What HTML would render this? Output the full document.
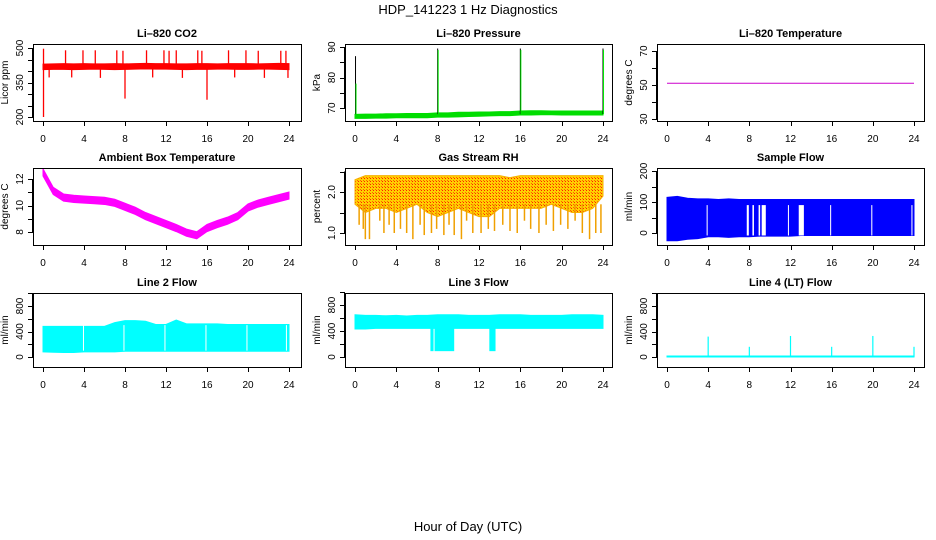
<!DOCTYPE html>
<html><head><meta charset="utf-8"><style>
body{margin:0;background:#fff}
svg{display:block;font-family:"Liberation Sans",sans-serif}
</style></head><body>
<svg id="c" width="936" height="540" viewBox="0 0 936 540">
<text x="468" y="14" text-anchor="middle" font-size="13">HDP_141223  1 Hz Diagnostics</text>
<text x="468" y="531" text-anchor="middle" font-size="13">Hour of Day (UTC)</text>
</svg>
<script>
// ---- data ----
const hours = [0,1,2,3,4,5,6,7,8,9,10,11,12,13,14,15,16,17,18,19,20,21,22,23,24];
const xTicks = [0,4,8,12,16,20,24];
// CO2
const co2Low  = [406,407,407,406,407,408,407,406,407,408,409,408,408,407,406,407,407,408,408,407,407,408,408,407,406];
const co2High = [430,431,432,431,432,431,431,432,431,432,433,432,432,431,431,432,432,431,432,432,432,431,432,433,432];
const co2SpikeHours = [0.05,0.05,2.2,3.9,5.1,7.2,7.8,8.0,10.1,11.8,12.3,13.0,15.1,15.5,16.0,18.1,19.8,21.0,23.2,23.7,0.6,2.8,5.6,10.7,13.6,18.7,21.6,23.9];
const co2SpikeVals  = [200,497,490,490,490,490,488,280,490,490,488,490,490,488,275,490,490,488,488,488,372,372,370,372,370,372,370,370];
// Pressure
const presLow  = [66.6,66.6,66.7,66.7,66.8,66.8,66.8,66.8,67.0,67.0,67.1,67.2,67.3,67.4,67.5,67.5,67.7,67.7,67.8,67.8,67.7,67.7,67.7,67.7,67.7];
const presHigh = [67.9,68.0,68.0,68.1,68.1,68.2,68.2,68.2,68.4,68.4,68.6,68.6,68.7,68.7,68.8,68.8,69.0,69.1,69.1,69.0,69.0,69.0,69.0,69.0,69.0];
const presSpikeHours = [0.05,8.0,16.0,24.0];
const presSpikeVals  = [87,89.5,89.5,89.5];
// Li-820 temperature
const licorTemp = [51,51,51,51,51,51,51,51,51,51,51,51,51,51,51,51,51,51,51,51,51,51,51,51,51];
// Ambient box temperature (centre line)
const ambTemp = [12.5,11.1,10.6,10.5,10.45,10.4,10.35,10.2,9.9,9.6,9.2,8.9,8.6,8.3,7.95,7.75,8.3,8.6,8.85,9.2,9.85,10.15,10.35,10.55,10.75];
// Gas stream RH
const rhHigh = [2.3,2.4,2.4,2.4,2.4,2.4,2.4,2.4,2.4,2.4,2.4,2.4,2.4,2.4,2.4,2.35,2.4,2.4,2.4,2.4,2.4,2.4,2.4,2.4,2.4];
const rhLow  = [1.7,1.5,1.6,1.6,1.5,1.6,1.7,1.5,1.4,1.5,1.6,1.5,1.4,1.4,1.6,1.6,1.6,1.6,1.6,1.7,1.6,1.5,1.5,1.6,1.9];
const rhDipHours = [0.4,0.8,1.0,1.4,2.4,2.8,3.3,3.8,4.4,5.0,5.6,6.3,6.7,7.4,7.9,8.6,9.1,9.6,10.3,10.8,11.4,12.2,12.9,13.5,14.3,15.0,15.7,16.4,17.0,17.8,18.5,19.2,19.9,20.6,21.3,22.0,22.7,23.3,23.8];
const rhDipVals  = [1.2,1.1,0.85,0.85,1.3,1.0,1.2,1.0,1.1,1.0,0.85,1.2,0.95,1.0,1.1,0.95,1.2,0.95,0.85,1.3,1.0,1.0,1.1,1.05,1.2,1.05,1.0,1.3,1.1,1.0,1.2,1.05,1.2,1.1,1.3,1.0,0.85,1.0,1.0];
// Sample flow
const sfLow  = [-25,-25,-20,-18,-12,-12,-14,-12,-12,-10,-10,-10,-10,-8,-8,-8,-8,-8,-8,-8,-8,-8,-8,-8,-8];
const sfHigh = [115,118,112,110,110,108,110,108,108,108,108,108,108,108,108,108,108,108,108,108,108,108,108,108,108];
const sfGapStart = [3.85,7.75,8.3,8.9,9.2,11.75,12.8,15.85,19.85,23.75];
const sfGapEnd   = [3.95,7.95,8.45,9.05,9.6,11.85,13.3,15.95,19.95,23.85];
// Line 2 flow
const l2Low  = [80,75,70,70,80,80,80,80,90,90,90,90,90,90,90,90,90,90,90,90,90,90,90,90,90];
const l2High = [480,480,480,480,480,480,480,540,570,570,560,510,510,580,520,520,520,520,510,510,510,510,510,510,510];
const l2GapHours = [3.9,7.85,11.85,15.85,19.85,23.7];
// Line 3 flow
const l3Low  = [430,430,440,440,440,440,440,440,440,440,440,440,440,440,440,440,440,440,440,440,440,440,440,440,440];
const l3High = [650,640,640,635,640,630,640,640,650,650,650,640,640,640,650,650,650,640,640,640,640,650,650,650,640];
const l3DipStart = [7.3,7.7,13.0];
const l3DipEnd   = [7.6,9.6,13.6];
const l3DipVals  = [90,90,90];
// Line 4 flow
const l4Base = [15,15,15,15,15,15,15,15,15,15,15,15,15,15,15,15,15,15,15,15,15,15,15,15,15];
const l4SpikeHours = [4,8,12,16,20,24];
const l4SpikeVals  = [320,160,330,160,330,160];

// ---- helpers ----
const NS='http://www.w3.org/2000/svg';
const svg=document.getElementById('c');
function mk(tag,attrs,parent){const e=document.createElementNS(NS,tag);for(const k in attrs)e.setAttribute(k,attrs[k]);(parent||svg).appendChild(e);return e;}
const cols=[{l:33,r:301,x0:43,x1:289},{l:345,r:612,x0:355,x1:603},{l:657,r:924,x0:667,x1:914}];
const rows=[{t:44,b:121},{t:168,b:245},{t:293,b:367}];
function panel(ci,ri,name,title,ylab,ya,yb,yticks,ylabels){
  const c=cols[ci],r=rows[ri];
  const g=mk('g',{});
  
  
  const xs=h=>c.x0+(c.x1-c.x0)*h/24;
  const ys=v=>ya[1]+(yb[1]-ya[1])*(v-ya[0])/(yb[0]-ya[0]);
  const t=mk('text',{x:(c.l+c.r)/2,y:r.t-7,'text-anchor':'middle','font-size':11,'font-weight':'bold'},g);
  t.textContent=title;
  
  
  const yl=mk('text',{transform:`translate(${c.l-25},${(r.t+r.b)/2}) rotate(-90)`,'text-anchor':'middle','font-size':10},g);
  yl.textContent=ylab;
  
  
  const ax=mk('g',{stroke:'#000','stroke-width':1,fill:'none'},g);
  
  
  mk('line',{x1:c.l-0.5,x2:c.l-0.5,y1:ys(yticks[0]),y2:ys(yticks[yticks.length-1])},ax);
  yticks.forEach(v=>{mk('line',{x1:c.l-5,x2:c.l,y1:Math.round(ys(v))+0.5,y2:Math.round(ys(v))+0.5},ax);});
  ylabels.forEach(v=>{const tt=mk('text',{transform:`translate(${c.l-10},${ys(v)}) rotate(-90)`,'text-anchor':'middle','font-size':10},g);tt.textContent=String(v);
    
    });
  mk('line',{x1:xs(0),x2:xs(24),y1:r.b+0.5,y2:r.b+0.5},ax);
  xTicks.forEach(h=>{mk('line',{x1:Math.round(xs(h))+0.5,x2:Math.round(xs(h))+0.5,y1:r.b,y2:r.b+5},ax);
    const tt=mk('text',{x:xs(h),y:r.b+21,'text-anchor':'middle','font-size':10},g);tt.textContent=h;
    
    });
  const data=mk('g',{},g);
  
  
  const box=mk('rect',{x:c.l+0.5,y:r.t+0.5,width:c.r-c.l,height:r.b-r.t,fill:'none',stroke:'#000'},g);
  
  
  return {xs,ys,g:data,top:r.t,bot:r.b};
}
function band(p,low,high,color,name){
  let d='M'+hours.map((h,i)=>p.xs(h)+','+p.ys(high[i])).join('L');
  d+='L'+hours.slice().reverse().map((h,j)=>{const i=hours.length-1-j;return p.xs(h)+','+p.ys(low[i]);}).join('L')+'Z';
  const e=mk('path',{d,fill:color,stroke:color,'stroke-width':1},p.g);
  
  
  return e;
}
function vline(p,h,v1,v2,color,w,name){
  const e=mk('line',{x1:p.xs(h),x2:p.xs(h),y1:p.ys(v1),y2:p.ys(v2),stroke:color,'stroke-width':w||1},p.g);
  
  
}
function line(p,vals,color,name,w){
  const e=mk('polyline',{points:hours.map((h,i)=>p.xs(h)+','+p.ys(vals[i])).join(' '),fill:'none',stroke:color,'stroke-width':w||1},p.g);
  
  
}
function gapRect(p,h1,h2,v1,v2,name){
  const e=mk('rect',{x:p.xs(h1),y:p.ys(v2),width:Math.max(1,p.xs(h2)-p.xs(h1)),height:p.ys(v1)-p.ys(v2),fill:'#fff'},p.g);
  
  
}

// P1 CO2
let p=panel(0,0,'co2-panel','Li\u2013820 CO2','Licor ppm',[500,48],[200,117],[200,250,300,350,400,450,500],[200,350,500]);
band(p,co2Low,co2High,'#ff0000','co2-band');
co2SpikeHours.forEach((h,i)=>vline(p,h,420,co2SpikeVals[i],'#ff0000',1.3,'co2-spike'));
// P2 Pressure
p=panel(1,0,'pressure-panel','Li\u2013820 Pressure','kPa',[90,47],[70,108],[70,75,80,85,90],[70,80,90]);
band(p,presLow,presHigh,'#00dd00','pressure-band');
presSpikeHours.forEach((h,i)=>{vline(p,h,68,presSpikeVals[i],'#000',1,'pressure-spike');vline(p,h+0.05,68,presSpikeVals[i]-(i==0?9:0.5),'#00ee00',1,'pressure-spike');});
// P3 Li-820 temperature
p=panel(2,0,'licor-temp-panel','Li\u2013820 Temperature','degrees C',[70,51],[30,119],[30,40,50,60,70],[30,50,70]);
line(p,licorTemp,'#cc00cc','licor-temp-line');
// P4 Ambient
p=panel(0,1,'ambient-temp-panel','Ambient Box Temperature','degrees C',[12,179],[8,232],[8,9,10,11,12],[8,10,12]);
band(p,ambTemp.map(v=>v-0.27),ambTemp.map(v=>v+0.27),'#ff00ff','ambient-temp-band');
// P5 RH
p=panel(1,1,'rh-panel','Gas Stream RH','percent',[2.0,192],[1.0,233],[1.0,1.5,2.0,2.5],['1.0','2.0']);
const defs=mk('defs',{});
const pat=mk('pattern',{id:'rhpat',width:3,height:3,patternUnits:'userSpaceOnUse'},defs);
mk('rect',{width:3,height:3,fill:'#ffd000'},pat);
mk('rect',{x:1,y:1,width:1,height:1,fill:'#ff2000'},pat);
mk('rect',{x:0,y:0,width:1,height:1,fill:'#ff6000'},pat);
band(p,rhLow,rhHigh,'url(#rhpat)','rh-band').setAttribute('stroke','#f8b000');
rhDipHours.forEach((h,i)=>vline(p,h,1.7,rhDipVals[i],'#f0a000',1.5,'rh-dip'));
// P6 Sample flow
p=panel(2,1,'sample-flow-panel','Sample Flow','ml/min',[200,171],[0,233],[0,50,100,150,200],[0,100,200]);
band(p,sfLow,sfHigh,'#0000ff','sample-flow-band');
sfGapStart.forEach((h,i)=>gapRect(p,h,sfGapEnd[i],-8,90,'sample-flow-gap'));
// P7 Line 2
p=panel(0,2,'line2-flow-panel','Line 2 Flow','ml/min',[800,306],[0,357],[0,200,400,600,800,1000],[0,400,800]);
band(p,l2Low,l2High,'#00ffff','line2-flow-band');
l2GapHours.forEach(h=>gapRect(p,h,h+0.08,100,500,'line2-flow-gap'));
// P8 Line 3
p=panel(1,2,'line3-flow-panel','Line 3 Flow','ml/min',[800,305],[0,357],[0,200,400,600,800,1000],[0,400,800]);
band(p,l3Low,l3High,'#00ffff','line3-flow-band');
l3DipStart.forEach((h,i)=>{const e=mk('rect',{x:p.xs(h),y:p.ys(440),width:p.xs(l3DipEnd[i])-p.xs(h),height:p.ys(l3DipVals[i])-p.ys(440),fill:'#00ffff'},p.g);
  
  });
// P9 Line 4
p=panel(2,2,'line4-flow-panel','Line 4 (LT) Flow','ml/min',[800,306],[0,357],[0,200,400,600,800,1000],[0,400,800]);
band(p,l4Base.map(()=>0),l4Base,'#00ffff','line4-flow-band');
l4SpikeHours.forEach((h,i)=>vline(p,h,0,l4SpikeVals[i],'#00ffff',1.2,'line4-flow-spike'));
</script>
</body></html>
